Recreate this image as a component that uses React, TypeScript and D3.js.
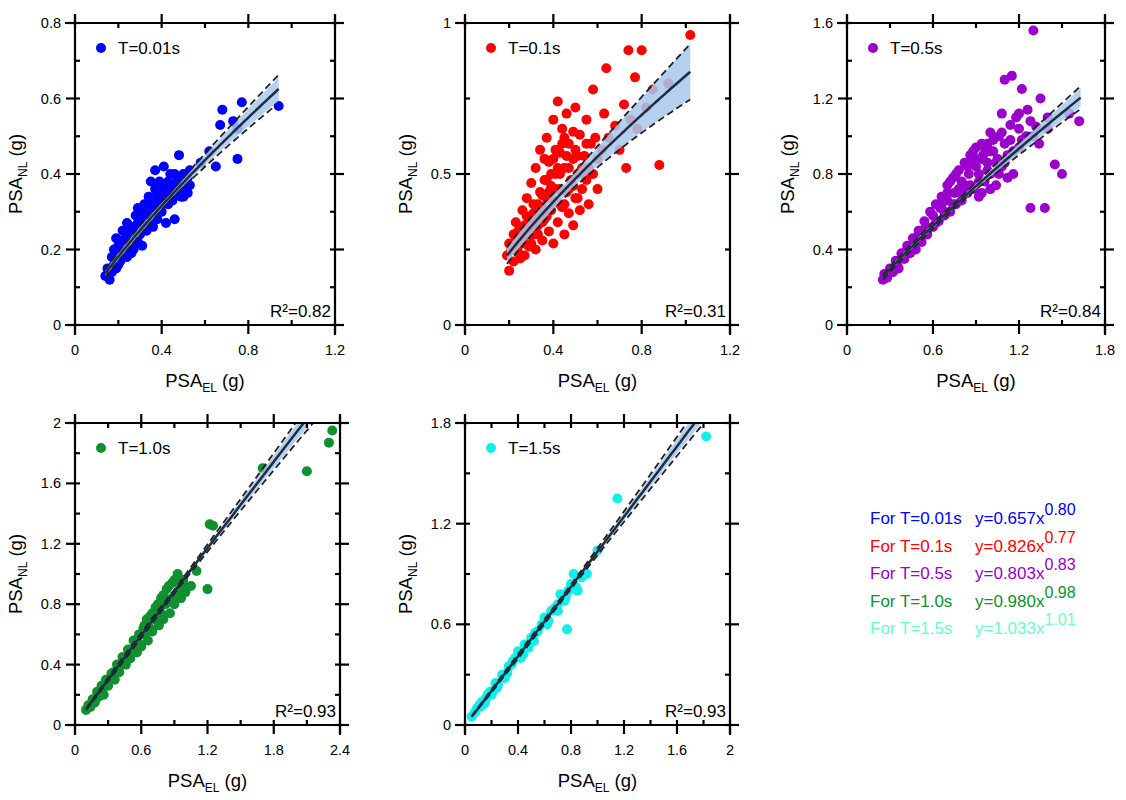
import React from "react";
import * as d3 from "d3";

const FONT = "'Liberation Sans', Arial, sans-serif";

const pts001: [number, number][] = [[0.14,0.13],[0.16,0.12],[0.15,0.15],[0.17,0.14],[0.18,0.16],[0.19,0.15],[0.18,0.2],[0.19,0.23],[0.2,0.21],[0.2,0.18],[0.21,0.17],[0.22,0.19],[0.22,0.22],[0.23,0.2],[0.24,0.27],[0.24,0.18],[0.25,0.21],[0.25,0.24],[0.26,0.19],[0.26,0.26],[0.27,0.23],[0.27,0.2],[0.28,0.25],[0.28,0.29],[0.29,0.22],[0.29,0.27],[0.3,0.24],[0.3,0.3],[0.31,0.26],[0.31,0.21],[0.32,0.28],[0.32,0.32],[0.33,0.25],[0.33,0.3],[0.34,0.27],[0.34,0.34],[0.35,0.29],[0.35,0.38],[0.36,0.31],[0.36,0.26],[0.37,0.33],[0.37,0.41],[0.38,0.28],[0.38,0.35],[0.39,0.31],[0.39,0.38],[0.4,0.33],[0.4,0.3],[0.41,0.36],[0.41,0.42],[0.42,0.34],[0.42,0.27],[0.43,0.38],[0.43,0.32],[0.44,0.36],[0.44,0.4],[0.45,0.33],[0.46,0.37],[0.46,0.28],[0.47,0.35],[0.48,0.45],[0.48,0.39],[0.49,0.34],[0.5,0.37],[0.5,0.4],[0.51,0.36],[0.52,0.39],[0.53,0.41],[0.58,0.43],[0.62,0.46],[0.65,0.42],[0.67,0.53],[0.68,0.57],[0.73,0.54],[0.75,0.44],[0.75,0.52],[0.77,0.59],[0.94,0.58],[0.21,0.2],[0.23,0.23],[0.27,0.25],[0.31,0.29],[0.35,0.32],[0.39,0.35],[0.43,0.35],[0.47,0.38],[0.2,0.16],[0.24,0.21],[0.28,0.22],[0.32,0.26],[0.36,0.29],[0.4,0.32],[0.44,0.34],[0.48,0.36],[0.52,0.35],[0.26,0.23],[0.3,0.27],[0.34,0.3],[0.38,0.32],[0.42,0.37],[0.46,0.4],[0.5,0.34],[0.53,0.37],[0.17,0.18],[0.22,0.25],[0.29,0.31],[0.37,0.36],[0.45,0.37]];

const pts01: [number, number][] = [[0.19,0.23],[0.2,0.18],[0.2,0.27],[0.21,0.25],[0.22,0.3],[0.22,0.21],[0.23,0.34],[0.24,0.26],[0.24,0.24],[0.25,0.32],[0.26,0.28],[0.26,0.38],[0.27,0.23],[0.28,0.3],[0.28,0.42],[0.29,0.35],[0.3,0.27],[0.3,0.47],[0.31,0.33],[0.31,0.4],[0.32,0.25],[0.32,0.52],[0.33,0.36],[0.33,0.3],[0.34,0.44],[0.34,0.58],[0.35,0.39],[0.35,0.28],[0.36,0.48],[0.36,0.35],[0.37,0.62],[0.37,0.42],[0.38,0.31],[0.38,0.54],[0.39,0.38],[0.39,0.46],[0.4,0.68],[0.4,0.27],[0.41,0.5],[0.41,0.41],[0.42,0.74],[0.42,0.34],[0.43,0.57],[0.43,0.45],[0.44,0.39],[0.44,0.65],[0.45,0.52],[0.45,0.3],[0.46,0.7],[0.46,0.44],[0.47,0.6],[0.47,0.37],[0.48,0.48],[0.49,0.55],[0.49,0.33],[0.5,0.72],[0.5,0.42],[0.51,0.5],[0.52,0.63],[0.52,0.38],[0.53,0.45],[0.54,0.56],[0.55,0.48],[0.55,0.68],[0.56,0.4],[0.57,0.6],[0.58,0.5],[0.58,0.78],[0.6,0.55],[0.6,0.45],[0.62,0.58],[0.63,0.7],[0.64,0.85],[0.65,0.62],[0.68,0.66],[0.7,0.58],[0.72,0.73],[0.73,0.52],[0.74,0.91],[0.75,0.68],[0.77,0.82],[0.78,0.65],[0.8,0.91],[0.82,0.72],[0.85,0.78],[0.88,0.53],[0.92,0.8],[1.02,0.96],[0.25,0.22],[0.29,0.26],[0.33,0.33],[0.37,0.36],[0.41,0.45],[0.45,0.4],[0.49,0.46],[0.53,0.52],[0.36,0.55],[0.44,0.6],[0.3,0.36],[0.4,0.55],[0.23,0.29],[0.27,0.33],[0.31,0.37],[0.35,0.43],[0.39,0.5],[0.43,0.5],[0.47,0.52],[0.51,0.56],[0.55,0.6],[0.27,0.27],[0.31,0.3],[0.35,0.34],[0.39,0.42],[0.43,0.4],[0.47,0.45],[0.51,0.42],[0.56,0.52],[0.33,0.4],[0.37,0.48],[0.41,0.58],[0.45,0.62],[0.49,0.64],[0.29,0.3],[0.34,0.36],[0.38,0.44],[0.42,0.52],[0.46,0.56],[0.5,0.58],[0.54,0.5],[0.59,0.62],[0.24,0.31],[0.28,0.36]];

const pts05: [number, number][] = [[0.25,0.24],[0.26,0.27],[0.28,0.25],[0.3,0.3],[0.32,0.28],[0.34,0.34],[0.36,0.3],[0.38,0.38],[0.4,0.35],[0.42,0.42],[0.44,0.38],[0.46,0.46],[0.48,0.4],[0.5,0.5],[0.52,0.44],[0.54,0.55],[0.56,0.48],[0.58,0.6],[0.6,0.52],[0.62,0.64],[0.64,0.55],[0.66,0.68],[0.68,0.58],[0.7,0.74],[0.72,0.6],[0.74,0.78],[0.76,0.64],[0.78,0.82],[0.8,0.66],[0.82,0.86],[0.84,0.7],[0.86,0.9],[0.88,0.72],[0.9,0.94],[0.92,0.68],[0.94,0.88],[0.96,0.76],[0.98,0.96],[1.0,0.8],[1.02,0.92],[1.04,0.74],[1.06,1.0],[1.08,0.84],[1.1,1.3],[1.12,0.9],[1.14,1.06],[1.15,1.32],[1.16,0.8],[1.18,1.1],[1.2,0.94],[1.22,1.25],[1.25,1.0],[1.28,0.62],[1.3,1.56],[1.32,1.05],[1.35,1.2],[1.38,0.62],[1.4,1.1],[1.45,0.85],[1.5,0.8],[1.55,1.12],[1.62,1.08],[0.65,0.62],[0.7,0.66],[0.75,0.7],[0.8,0.76],[0.85,0.8],[0.9,0.84],[0.95,0.9],[1.0,0.92],[1.05,0.88],[0.72,0.76],[0.82,0.74],[0.92,0.8],[1.1,0.96],[1.2,1.04],[0.6,0.58],[0.55,0.52],[0.88,0.92],[0.98,0.86],[1.08,1.12],[0.62,0.54],[0.68,0.6],[0.74,0.64],[0.8,0.7],[0.86,0.74],[0.92,0.76],[0.98,0.82],[1.04,0.86],[1.1,0.86],[1.16,0.92],[1.22,0.98],[1.28,1.08],[0.7,0.7],[0.78,0.72],[0.84,0.84],[0.9,0.88],[0.96,0.94],[1.02,0.98],[1.08,1.02],[1.14,0.98],[1.2,1.12],[1.26,1.14],[0.66,0.64],[0.76,0.8],[0.86,0.86],[0.94,0.96],[1.0,1.02],[1.06,0.8],[0.48,0.46],[0.52,0.5],[0.45,0.42],[0.35,0.32],[0.4,0.38],[1.0,0.72],[1.12,0.78],[0.94,0.7],[1.3,1.0],[1.34,0.96],[1.4,1.04]];

const pts10: [number, number][] = [[0.1,0.1],[0.12,0.13],[0.14,0.12],[0.16,0.17],[0.18,0.15],[0.2,0.22],[0.22,0.19],[0.24,0.26],[0.26,0.2],[0.28,0.3],[0.3,0.26],[0.33,0.34],[0.36,0.3],[0.38,0.4],[0.4,0.35],[0.43,0.45],[0.46,0.4],[0.48,0.5],[0.5,0.44],[0.53,0.56],[0.56,0.48],[0.58,0.6],[0.6,0.52],[0.63,0.66],[0.66,0.56],[0.68,0.72],[0.7,0.62],[0.73,0.78],[0.76,0.66],[0.78,0.84],[0.8,0.7],[0.83,0.9],[0.86,0.74],[0.88,0.94],[0.9,0.8],[0.93,1.0],[0.96,0.84],[0.98,0.96],[1.0,0.88],[1.05,0.92],[1.1,1.02],[1.2,0.9],[1.22,1.33],[1.25,1.32],[1.7,1.7],[2.1,1.68],[2.3,1.87],[2.33,1.95],[0.65,0.62],[0.75,0.72],[0.85,0.82],[0.95,0.9],[0.55,0.52],[0.45,0.43],[0.5,0.5],[0.55,0.56],[0.6,0.6],[0.65,0.7],[0.7,0.74],[0.75,0.8],[0.8,0.86],[0.85,0.92],[0.9,0.96],[0.62,0.64],[0.72,0.7],[0.82,0.8],[0.92,0.86],[0.58,0.54],[0.68,0.64],[0.78,0.74],[0.88,0.84],[0.98,0.92],[0.35,0.35],[0.42,0.4],[0.3,0.3],[0.25,0.24],[0.52,0.48],[0.15,0.14],[0.2,0.18]];

const pts15: [number, number][] = [[0.05,0.05],[0.07,0.07],[0.09,0.1],[0.11,0.12],[0.13,0.14],[0.15,0.13],[0.17,0.18],[0.19,0.2],[0.21,0.2],[0.23,0.25],[0.25,0.24],[0.28,0.3],[0.3,0.28],[0.33,0.35],[0.35,0.36],[0.38,0.4],[0.4,0.44],[0.42,0.4],[0.45,0.48],[0.48,0.46],[0.5,0.52],[0.53,0.55],[0.55,0.56],[0.58,0.6],[0.6,0.64],[0.63,0.62],[0.65,0.68],[0.68,0.7],[0.7,0.72],[0.72,0.78],[0.75,0.74],[0.77,0.57],[0.78,0.8],[0.8,0.84],[0.82,0.9],[0.85,0.8],[0.88,0.88],[0.92,0.9],[1.0,1.04],[1.15,1.35],[1.82,1.72],[0.08,0.08],[0.12,0.11],[0.16,0.16],[0.2,0.18],[0.24,0.22],[0.32,0.31],[0.36,0.38],[0.44,0.42],[0.52,0.5],[0.62,0.6],[0.7,0.68],[0.76,0.76],[0.84,0.82]];

const periods = ["T=0.01s", "T=0.1s", "T=0.5s", "T=1.0s", "T=1.5s"];
const coefA = [0.657, 0.826, 0.803, 0.98, 1.033];
const coefB = [0.8, 0.77, 0.83, 0.98, 1.01];
const r2 = ["0.82", "0.31", "0.84", "0.93", "0.93"];
const xMax = [1.2, 1.2, 1.8, 2.4, 2];
const xStep = [0.4, 0.4, 0.6, 0.6, 0.4];
const yMax = [0.8, 1, 1.6, 2, 1.8];
const yStep = [0.2, 0.5, 0.4, 0.4, 0.6];
const fitRange: [number, number][] = [[0.14, 0.94], [0.19, 1.02], [0.25, 1.63], [0.1, 2.2], [0.05, 1.85]];
const bandW = [[0.06, 0.02, 0.05], [0.1, 0.04, 0.11], [0.04, 0.015, 0.04], [0.04, 0.01, 0.03], [0.04, 0.01, 0.03]];
const dashW = [[0.07, 0.03, 0.06], [0.12, 0.05, 0.11], [0.05, 0.02, 0.05], [0.05, 0.015, 0.04], [0.05, 0.015, 0.04]];
const colors = ["#0000ff", "#ff0000", "#9900cc", "#109030", "#11eeee"];
const legendColors = ["#0000ff", "#ff0000", "#9900cc", "#109030", "#66ffcc"];
const allPts = [pts001, pts01, pts05, pts10, pts15];
const boxes = [[75, 23, 260, 302], [465, 23, 265, 302], [847, 23, 258, 302], [75, 423, 265, 302], [465, 423, 265, 302]];

function Panel({ i }: { i: number }) {
  const [L, T, W, H] = boxes[i];
  const x = d3.scaleLinear().domain([0, xMax[i]]).range([L, L + W]);
  const y = d3.scaleLinear().domain([0, yMax[i]]).range([T + H, T]);
  const fmt = (v: number) => String(+v.toFixed(2));
  const xt = d3.range(0, xMax[i] + 1e-9, xStep[i] / 2);
  const yt = d3.range(0, yMax[i] + 1e-9, yStep[i] / 2);
  const [x0, x1] = fitRange[i];
  const xs = d3.range(x0, x1 + 1e-9, (x1 - x0) / 80);
  const fit = (v: number) => coefA[i] * Math.pow(v, coefB[i]);
  const wScale = (w: number[]) => d3.scaleLinear().domain([x0, (x0 + x1) / 2.5, x1]).range(w);
  const bw = wScale(bandW[i]);
  const dw = wScale(dashW[i]);
  const line = (f: (v: number) => number) => d3.line<number>().x(v => x(v)).y(v => y(f(v)))(xs) || "";
  const area = d3.area<number>().x(v => x(v)).y0(v => y(fit(v) * (1 - bw(v)))).y1(v => y(fit(v) * (1 + bw(v))))(xs) || "";
  const clip = `clip${i}`;
  return (
    <g fontFamily={FONT}>
      <clipPath id={clip}><rect x={L} y={T} width={W} height={H} /></clipPath>
      <g clipPath={`url(#${clip})`}>
        {allPts[i].map((p, k) => <circle key={k} cx={x(p[0])} cy={y(p[1])} r={5} fill={colors[i]} />)}
        <path d={area} fill="#a8c8ec" opacity={0.85} />
        <path d={line(v => fit(v) * (1 + dw(v)))} fill="none" stroke="#222" strokeWidth={1.8} strokeDasharray="7,4" />
        <path d={line(v => fit(v) * (1 - dw(v)))} fill="none" stroke="#222" strokeWidth={1.8} strokeDasharray="7,4" />
        <path d={line(fit)} fill="none" stroke="#1c2e40" strokeWidth={2.5} />
      </g>
      <g stroke="#000" strokeWidth={2.2}>
        <line x1={L - 10} x2={L + W + 8} y1={T} y2={T} />
        <line x1={L - 10} x2={L + W + 8} y1={T + H} y2={T + H} />
        <line x1={L} x2={L} y1={T - 8} y2={T + H + 10} />
        <line x1={L + W} x2={L + W} y1={T - 8} y2={T + H + 10} />
        {xt.map((v, k) => {
          const maj = k % 2 === 0;
          return <g key={k}>
            <line x1={x(v)} x2={x(v)} y1={T + H + (maj ? 9 : 0)} y2={T + H - 5} />
            <line x1={x(v)} x2={x(v)} y1={T - (maj ? 9 : 0)} y2={T + 5} />
          </g>;
        })}
        {yt.map((v, k) => {
          const maj = k % 2 === 0;
          return <g key={k}>
            <line x1={L - (maj ? 9 : 0)} x2={L + 5} y1={y(v)} y2={y(v)} />
            <line x1={L + W + (maj ? 9 : 0)} x2={L + W - 5} y1={y(v)} y2={y(v)} />
          </g>;
        })}
      </g>
      {xt.filter((_, k) => k % 2 === 0).map((v, k) => (
        <text key={k} x={x(v)} y={T + H + 30} textAnchor="middle" fontSize={14.5}>{fmt(v)}</text>
      ))}
      {yt.filter((_, k) => k % 2 === 0).map((v, k) => (
        <text key={k} x={L - 14} y={y(v) + 5} textAnchor="end" fontSize={14.5}>{fmt(v)}</text>
      ))}
      <text x={L + W / 2} y={T + H + 62} textAnchor="middle" fontSize={18.5}>PSA<tspan fontSize={12} dy={5}>EL</tspan><tspan dy={-5}> (g)</tspan></text>
      <text transform={`translate(${L - 53},${T + H / 2}) rotate(-90)`} textAnchor="middle" fontSize={18.5}>PSA<tspan fontSize={12} dy={5}>NL</tspan><tspan dy={-5}> (g)</tspan></text>
      <circle cx={L + 26} cy={T + 25} r={5} fill={colors[i]} />
      <text x={L + 43} y={T + 31} fontSize={17}>{periods[i]}</text>
      <text x={L + W - 4} y={T + H - 8} textAnchor="end" fontSize={17}>R²=0.{r2[i].slice(2)}</text>
    </g>
  );
}

export default function App() {
  return (
    <svg width={1126} height={800} style={{ position: "absolute", left: 0, top: 0, background: "#fff" }}>
      {periods.map((_, i) => <Panel key={i} i={i} />)}
      <g fontFamily={FONT} fontSize={17}>
        {periods.map((p, i) => (
          <g key={i} fill={legendColors[i]}>
            <text x={870} y={524 + i * 27.5}>For {p}</text>
            <text x={975} y={524 + i * 27.5}>y={coefA[i].toFixed(3)}x<tspan fontSize={16} dy={-9}>{coefB[i].toFixed(2)}</tspan></text>
          </g>
        ))}
      </g>
    </svg>
  );
}
